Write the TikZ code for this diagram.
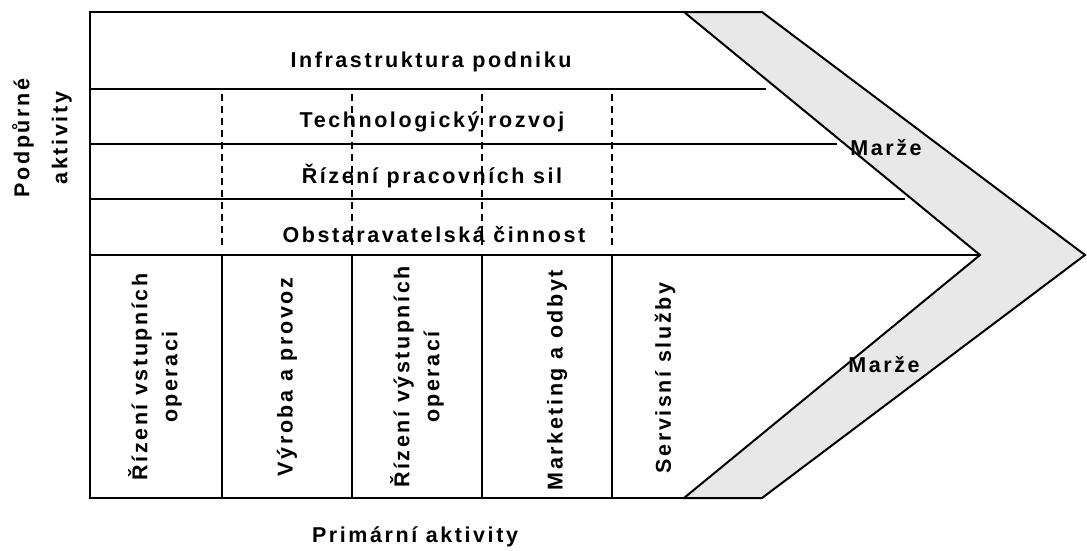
\documentclass[tikz,border=0pt]{standalone}
\usepackage{fontspec}
\newfontfamily\chainfont{Liberation Sans}[LetterSpace=12]
\usepackage{tikz}
\usetikzlibrary{calc}
\usetikzlibrary{positioning}
\tikzstyle{frame}=[draw=black,line width=2pt]
\tikzstyle{divider}=[draw=black,line width=2pt,dash pattern=on 7pt off 5pt]
\colorlet{margin gray}{black!9}

\begin{document}
\begin{tikzpicture}[
  x=1pt,y=-1pt,
  label/.style={font=\chainfont\bfseries\fontsize{21.5}{30}\selectfont,inner sep=0pt,align=center},
  column/.style={label,rotate=90},
]
  \useasboundingbox (0,0) rectangle (1087,550);
  % corner points of the chain
  \coordinate (tl) at (90,12);
  \coordinate (bl) at (90,498);
  \coordinate (ti) at (684,12);
  \coordinate (bi) at (684,498);
  \coordinate (to) at (762,12);
  \coordinate (bo) at (762,498);
  \coordinate (apex in) at (980,255);
  \coordinate (apex out) at (1085,255);
  % margin band
  \filldraw[frame,fill=margin gray,line join=miter]
    (ti) -- (to) -- (apex out) -- (bo) -- (bi) -- (apex in) -- cycle;
  \draw[frame] (ti) -- (tl) -- (bl) -- (bi);
  % support rows
  \foreach \y/\xend in {89/766,144/837,199/905,255/980}
    \draw[frame] (90,\y) -- (\xend,\y);
  \foreach \x in {222,352,482,612}{
    \draw[divider] (\x,94) -- (\x,250);
    \draw[frame] (\x,255) -- (\x,498);
  }
  \node[label] (infra) at (431,62) {Infrastruktura podniku};
  \node[label] (tech) at (432,122) {Technologický rozvoj};
  \node[label] (hr) at (432,176) {Řízení pracovních sil};
  \node[label] (proc) at (434,235) {Obstaravatelská činnost};
  \node[label] (margin top) at (886,148) {Marže};
  \node[label] (margin bottom) at (884,365) {Marže};
  % primary activities
  \node[column] (inbound) at (155,377) {Řízení vstupních\\operaci};
  \node[column] (ops) at (287,377) {Výroba a provoz};
  \node[column] (outbound) at (417,377) {Řízení výstupních\\operací};
  \node[column] (sales) at (557,380) {Marketing a odbyt};
  \node[column] (service) at (665,378) {Servisní služby};
  \node[column] (support) at (42,138) {Podpůrné\\[8pt]aktivity};
  \node[label] (primary) at (415,537) {Primární aktivity};
\end{tikzpicture}
\end{document}
